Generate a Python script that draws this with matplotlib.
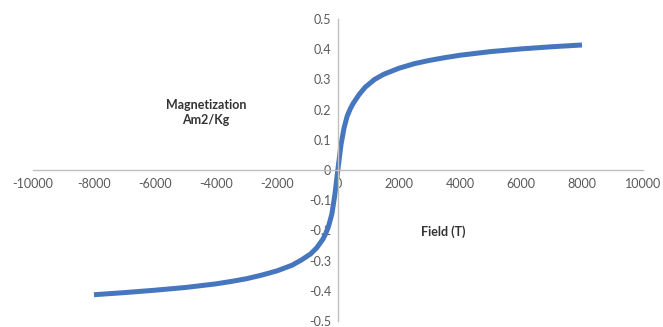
import matplotlib
matplotlib.use("Agg")
import matplotlib.pyplot as plt

plt.rcParams['font.family'] = ['Lato', 'DejaVu Sans']

field = [-8000, -7000, -6000, -5000, -4000, -3500, -3000, -2500, -2000, -1500,
         -1200, -900, -700, -500, -400, -300, -200, -100, 0,
         100, 200, 300, 400, 500, 700, 900, 1200, 1500, 2000,
         2500, 3000, 3500, 4000, 5000, 6000, 7000, 8000]
magnetization = [-0.413, -0.406, -0.398, -0.389, -0.377, -0.369, -0.360, -0.348, -0.334, -0.315,
                 -0.298, -0.278, -0.258, -0.230, -0.210, -0.183, -0.145, -0.080, 0.005,
                 0.085, 0.140, 0.178, 0.202, 0.221, 0.251, 0.275, 0.300, 0.317, 0.337,
                 0.352, 0.363, 0.372, 0.380, 0.392, 0.401, 0.408, 0.414]

x_ticks = [-10000, -8000, -6000, -4000, -2000, 0, 2000, 4000, 6000, 8000, 10000]
y_ticks = [-0.5, -0.4, -0.3, -0.2, -0.1, 0, 0.1, 0.2, 0.3, 0.4, 0.5]
y_ticklabels = ['-0.5', '-0.4', '-0.3', '-0.2', '-0.1', '0', '0.1', '0.2', '0.3', '0.4', '0.5']

W, H = 663, 327
fig = plt.figure(figsize=(W / 100, H / 100), dpi=100)
ax = fig.add_axes([33 / W, (H - 321) / H, (643 - 33) / W, (321 - 19) / H])

ax.plot(field, magnetization, color='#4677BE', linewidth=3.6, solid_capstyle='butt',
        solid_joinstyle='round')

ax.set_xlim(-10000, 10000)
ax.set_ylim(-0.5, 0.5)
ax.set_xticks(x_ticks)
ax.set_xticklabels([str(v) for v in x_ticks])
ax.set_yticks(y_ticks)
ax.set_yticklabels(y_ticklabels)

ax.spines['left'].set_position(('data', 0))
ax.spines['bottom'].set_position(('data', 0))
ax.spines['top'].set_visible(False)
ax.spines['right'].set_visible(False)
for s in ('left', 'bottom'):
    ax.spines[s].set_color('#BFBFBF')
    ax.spines[s].set_linewidth(1.0)

ax.tick_params(axis='both', length=0, labelsize=9, labelcolor='#595959')
ax.tick_params(axis='x', pad=6)
ax.tick_params(axis='y', pad=5)
ax.patch.set_alpha(0)

ax.text(-4330, 0.19, 'Magnetization\nAm2/Kg', ha='center', va='center',
        fontsize=9, fontweight='bold', color='#333333', linespacing=1.3)
ax.text(3440, -0.203, 'Field (T)', ha='center', va='center',
        fontsize=9, fontweight='bold', color='#333333')

fig.savefig('out.png', dpi=100)
